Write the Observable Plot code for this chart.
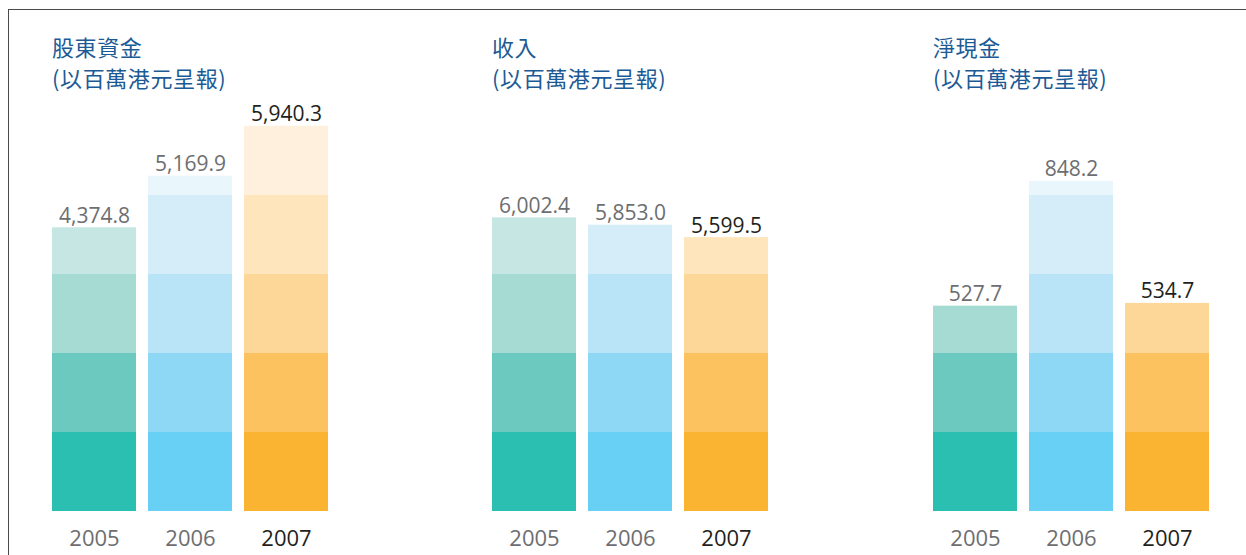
<!DOCTYPE html>
<html>
<head>
<meta charset="utf-8">
<script src="https://cdn.jsdelivr.net/npm/d3@7"></script>
<script src="https://cdn.jsdelivr.net/npm/@observablehq/plot@0.6"></script>
<style>
  html, body { margin: 0; padding: 0; background: #fff; }
  #root { position: relative; width: 1246px; height: 555px; overflow: hidden; font-family: "Open Sans", sans-serif; }
  #frame { position: absolute; left: 8px; top: 9px; right: -10px; bottom: -10px; border-top: 1.5px solid #4a4a4a; border-left: 1.5px solid #4a4a4a; }
  .title { position: absolute; font-family: "Noto Sans CJK TC", sans-serif; font-size: 22px; line-height: 32px; letter-spacing: 0.6px; color: #1c5a95; white-space: nowrap; }
  .panel { position: absolute; top: 96px; }
  .panel svg { overflow: visible; }
</style>
</head>
<body>
<div id="root"><div id="frame"></div></div>
<script>
// ---- data ----
const years = ["2005", "2006", "2007"];
const titles = ["股東資金", "收入", "淨現金"];
const subtitle = "(以百萬港元呈報)";
const equity = [4374.8, 5169.9, 5940.3];
const revenue = [6002.4, 5853.0, 5599.5];
const netCash = [527.7, 848.2, 534.7];
const seriesValues = [equity, revenue, netCash];
const yMax = [6090, 8075, 1015];          // top of each panel's value axis
const bandCount = 5;                      // decorative shade bands per bar
const colors2005 = ["#2bbfb2", "#6cc9c0", "#a6dbd4", "#c6e6e3", "#e0f2f0"];
const colors2006 = ["#68cff5", "#8fd8f5", "#b9e4f7", "#d5ecf9", "#e9f6fc"];
const colors2007 = ["#fbb432", "#fcc25f", "#fdd797", "#fee5bb", "#fef0dc"];
const yearColors = [colors2005, colors2006, colors2007];
const labelColors = ["#6d6e71", "#6d6e71", "#231f20"];

// ---- layout ----
const panelLeft = [52, 492, 933];
const root = document.getElementById("root");
const fmt = d3.format(",.1f");

seriesValues.forEach((vals, p) => {
  [titles[p], subtitle].forEach((line, j) => {
    const t = document.createElement("div");
    t.className = "title";
    t.style.left = panelLeft[p] + "px";
    t.style.top = (30 + j * 31) + "px";
    t.textContent = line;
    root.appendChild(t);
  });

  const step = yMax[p] / bandCount;
  const bands = [];
  vals.forEach((v, i) => {
    for (let k = 0; k < bandCount; k++) {
      const lo = k * step;
      if (lo < v) bands.push({year: years[i], lo, hi: Math.min((k + 1) * step, v), color: yearColors[i][k]});
    }
  });
  const points = vals.map((v, i) => ({year: years[i], value: v, label: fmt(v), ink: labelColors[i]}));

  const chart = Plot.plot({
    width: 276,
    height: 459,
    marginTop: 20,
    marginBottom: 44,
    marginLeft: 0,
    marginRight: 0,
    style: {fontFamily: "'Open Sans', sans-serif", background: "transparent"},
    x: {domain: years, paddingInner: 0.125, paddingOuter: 0, axis: null},
    y: {domain: [0, yMax[p]], axis: null},
    color: {type: "identity"},
    marks: [
      Plot.barY(bands, {x: "year", y1: "lo", y2: "hi", fill: "color"}),
      Plot.text(points, {x: "year", y: "value", text: "label", fill: "ink", fontSize: 21, lineAnchor: "bottom", dy: -5}),
      Plot.text(points, {x: "year", text: "year", fill: "ink", fontSize: 22, frameAnchor: "bottom", lineAnchor: "top", dy: 19})
    ]
  });
  const wrap = document.createElement("div");
  wrap.className = "panel";
  wrap.style.left = panelLeft[p] + "px";
  wrap.appendChild(chart);
  root.appendChild(wrap);
});
</script>
</body>
</html>
